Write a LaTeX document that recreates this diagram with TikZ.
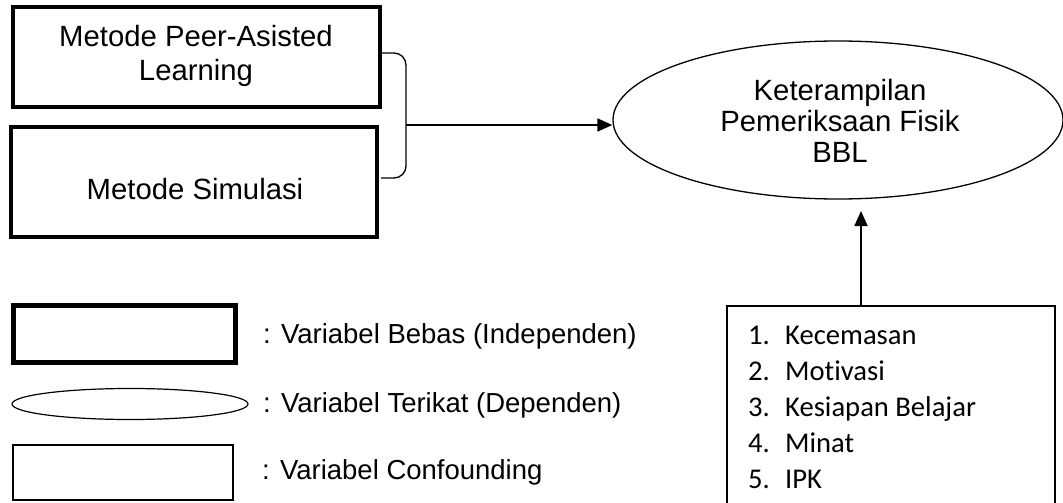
\documentclass[tikz,border=0pt]{standalone}
\usepackage{fontspec}
\setmainfont{Liberation Sans}
\newfontfamily\calib[Ligatures=NoCommon]{Carlito}
\usetikzlibrary{shapes.geometric,arrows.meta}
\begin{document}
\begin{tikzpicture}[x=1pt,y=-1pt,
  lbl/.style={font=\fontsize{29.3}{34}\selectfont,anchor=base,inner sep=0pt},
  leg/.style={font=\fontsize{27.5}{32}\selectfont,anchor=base west,inner sep=0pt},
  itm/.style={font=\calib\fontsize{28.6}{34}\selectfont,anchor=base west,inner sep=0pt},
  conn/.style={line width=1.8pt,-{Triangle[length=15pt,width=13pt]}},
  brk/.style={line width=1.3pt,rounded corners=12pt}]
\useasboundingbox (0,0) rectangle (1063,503);
% independent variable boxes
\draw[line width=4pt] (13,7) rectangle (380,107);
\node[lbl] (pal1) at (196,47) {Metode Peer-Asisted};
\node[lbl] (pal2) at (196,81) {Learning};
\draw[line width=4pt] (11,127) rectangle (377,237);
\node[lbl] (sim) at (195,199) {Metode Simulasi};
% bracket
\coordinate (bt) at (381,53);
\coordinate (bb) at (381,178);
\coordinate (bm) at (406,125);
\draw[brk] (bt) -- (406,53) -- (406,178) -- (bb);
% dependent ellipse
\node[draw,ellipse,line width=1.3pt,minimum width=450pt,minimum height=158pt,inner sep=0pt] (dv) at (838,120) {};
\node[lbl] (dv1) at (840,100) {Keterampilan};
\node[lbl] (dv2) at (840,131) {Pemeriksaan Fisik};
\node[lbl] (dv3) at (840,162) {BBL};
\draw[conn] (bm) -- (dv.west |- bm);
% confounding box
\draw[line width=1.3pt] (1055,560) -- (1055,306) -- (727,306) -- (727,560);
\coordinate (cf) at (861,306);
\coordinate (cftip) at (861,211);
\draw[conn] (cf) -- (cftip);
\node[itm] (n1) at (748,344) {1.}; \node[itm] (c1) at (785,344) {Kecemasan};
\node[itm] (n2) at (748,380) {2.}; \node[itm] (c2) at (785,380) {Motivasi};
\node[itm] (n3) at (748,416) {3.}; \node[itm] (c3) at (785,416) {Kesiapan Belajar};
\node[itm] (n4) at (748,452) {4.}; \node[itm] (c4) at (785,452) {Minat};
\node[itm] (n5) at (748,488) {5.}; \node[itm] (c5) at (785,488) {IPK};
% legend
\draw[line width=5pt] (13,305) rectangle (235,362);
\node[leg] (l1) at (263,343) {: Variabel Bebas (Independen)};
\node[draw,ellipse,line width=1.2pt,minimum width=236pt,minimum height=31pt,inner sep=0pt] (le) at (130,404) {};
\node[leg] (l2) at (263,412) {: Variabel Terikat (Dependen)};
\draw[line width=1.2pt] (13,445) rectangle (233,500);
\node[leg] (l3) at (262,479) {: Variabel Confounding};
\end{tikzpicture}
\end{document}
